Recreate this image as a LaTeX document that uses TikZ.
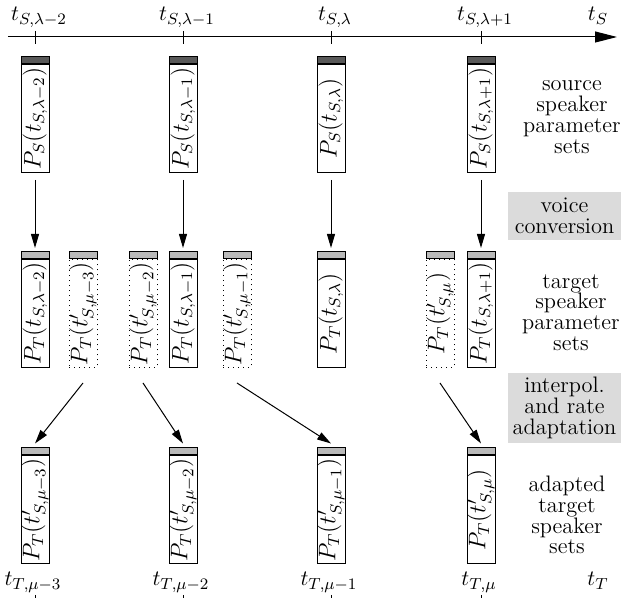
\documentclass[tikz,border=0pt]{standalone}
\usepackage{tikz}
\usetikzlibrary{positioning, arrows.meta}
\definecolor{capSrc}{gray}{0.35}
\definecolor{capTgt}{gray}{0.73}
\definecolor{stageBg}{gray}{0.86}
\newcommand{\vpar}[1]{\rotatebox{90}{\large$#1$}}

\begin{document}
\begin{tikzpicture}[x=0.5pt, y=-0.5pt,
    pset/.style={draw, line width=0.5pt, minimum width=14pt, minimum height=54pt, inner sep=0pt},
    pint/.style={pset, dotted},
    capbar/.style={draw, line width=0.5pt, fill=#1, minimum width=14pt, minimum height=3.5pt, inner sep=0pt},
    arr/.style={-{Triangle[length=7pt, width=4pt]}, line width=0.5pt},
    tlbl/.style={anchor=base, inner sep=0pt, font=\fontsize{11.2}{13}\selectfont},
    side/.style={align=center, font=\fontsize{11.2}{10.4}\selectfont},
    stage/.style={side, fill=stageBg, minimum width=56.5pt, inner sep=0pt},
]
\useasboundingbox (0,0) rectangle (623,598);

% source time axis
\coordinate (ts0) at (8,37);
\coordinate (ts1) at (617,37);
\draw[line width=0.5pt, -{Triangle[length=11pt, width=5.5pt]}] (ts0) -- (ts1);
\draw[line width=0.5pt] (35,31) -- (35,44) (183,31) -- (183,44) (331,31) -- (331,44) (481,31) -- (481,44);
\node[tlbl] (ls1) at (39,21) {$t_{S,\lambda-2}$};
\node[tlbl] (ls2) at (187,21) {$t_{S,\lambda-1}$};
\node[tlbl] (ls3) at (335,21) {$t_{S,\lambda}$};
\node[tlbl] (ls4) at (485,21) {$t_{S,\lambda+1}$};
\node[tlbl] (lsax) at (598,21) {$t_S$};

% source speaker parameter sets
\node[pset] (s1) at (35,118.5) {\vpar{P_S(t_{S,\lambda-2})}};
\node[capbar=capSrc, above=0pt of s1] (s1c) {};
\node[pset] (s2) at (183,118.5) {\vpar{P_S(t_{S,\lambda-1})}};
\node[capbar=capSrc, above=0pt of s2] (s2c) {};
\node[pset] (s3) at (331,118.5) {\vpar{P_S(t_{S,\lambda})}};
\node[capbar=capSrc, above=0pt of s3] (s3c) {};
\node[pset] (s4) at (481,118.5) {\vpar{P_S(t_{S,\lambda+1})}};
\node[capbar=capSrc, above=0pt of s4] (s4c) {};

% converted sets and the interpolated ones in between
\node[pset] (t1) at (35,313.5) {\vpar{P_T(t_{S,\lambda-2})}};
\node[capbar=capTgt, above=0pt of t1] (t1c) {};
\node[pint] (i1) at (83,313.5) {\vpar{P_T(t'_{S,\mu-3})}};
\node[capbar=capTgt, above=0pt of i1] (i1c) {};
\node[pint] (i2) at (143,313.5) {\vpar{P_T(t'_{S,\mu-2})}};
\node[capbar=capTgt, above=0pt of i2] (i2c) {};
\node[pset] (t2) at (183,313.5) {\vpar{P_T(t_{S,\lambda-1})}};
\node[capbar=capTgt, above=0pt of t2] (t2c) {};
\node[pint] (i3) at (237,313.5) {\vpar{P_T(t'_{S,\mu-1})}};
\node[capbar=capTgt, above=0pt of i3] (i3c) {};
\node[pset] (t3) at (331,313.5) {\vpar{P_T(t_{S,\lambda})}};
\node[capbar=capTgt, above=0pt of t3] (t3c) {};
\node[pint] (i4) at (440,313.5) {\vpar{P_T(t'_{S,\mu})}};
\node[capbar=capTgt, above=0pt of i4] (i4c) {};
\node[pset] (t4) at (481,313.5) {\vpar{P_T(t_{S,\lambda+1})}};
\node[capbar=capTgt, above=0pt of t4] (t4c) {};

% adapted target sets
\node[pset] (b1) at (35,510) {\vpar{P_T(t'_{S,\mu-3})}};
\node[capbar=capTgt, above=0pt of b1] (b1c) {};
\node[pset] (b2) at (183,510) {\vpar{P_T(t'_{S,\mu-2})}};
\node[capbar=capTgt, above=0pt of b2] (b2c) {};
\node[pset] (b3) at (331,510) {\vpar{P_T(t'_{S,\mu-1})}};
\node[capbar=capTgt, above=0pt of b3] (b3c) {};
\node[pset] (b4) at (481,510) {\vpar{P_T(t'_{S,\mu})}};
\node[capbar=capTgt, above=0pt of b4] (b4c) {};

\draw[arr] ([yshift=-3.5pt]s1.south) -- ([yshift=1.5pt]t1c.north);
\draw[arr] ([yshift=-3.5pt]s2.south) -- ([yshift=1.5pt]t2c.north);
\draw[arr] ([yshift=-3.5pt]s3.south) -- ([yshift=1.5pt]t3c.north);
\draw[arr] ([yshift=-3.5pt]s4.south) -- ([yshift=1.5pt]t4c.north);
\draw[arr] ([yshift=-7.5pt]i1.south) -- ([yshift=2pt]b1c.north);
\draw[arr] ([yshift=-7.5pt]i2.south) -- ([yshift=2pt]b2c.north);
\draw[arr] ([yshift=-7.5pt]i3.south) -- ([yshift=2pt]b3c.north);
\draw[arr] ([yshift=-7.5pt]i4.south) -- ([yshift=2pt]b4c.north);

% row captions
\node[side] (lsrc) at (572,117) {source\\speaker\\parameter\\sets};
\node[stage, minimum height=24pt] (vc) at (564.5,216) {voice\\conversion};
\node[side] (ltgt) at (571,312.5) {target\\speaker\\parameter\\sets};
\node[stage, minimum height=35pt] (ira) at (564.5,408) {interpol.\\and rate\\adaptation};
\node[side] (ladp) at (567,515) {adapted\\target\\speaker\\sets};

% target time axis
\node[tlbl] (lt1) at (33,586) {$t_{T,\mu-3}$};
\node[tlbl] (lt2) at (181,586) {$t_{T,\mu-2}$};
\node[tlbl] (lt3) at (329,586) {$t_{T,\mu-1}$};
\node[tlbl] (lt4) at (479,586) {$t_{T,\mu}$};
\node[tlbl] (ltax) at (598,586) {$t_T$};
\draw[line width=0.5pt] (35,595) -- (35,604) (183,595) -- (183,604) (331,595) -- (331,604) (481,595) -- (481,604);
\end{tikzpicture}
\end{document}
